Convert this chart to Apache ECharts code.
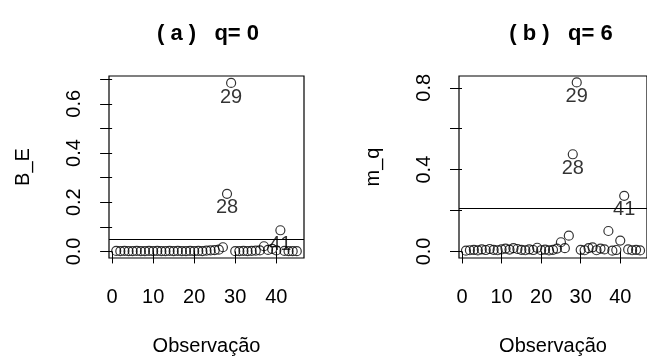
<!DOCTYPE html>
<html>
<head>
<meta charset="utf-8">
<script src="https://cdn.jsdelivr.net/npm/echarts@6/dist/echarts.min.js"></script>
<style>
  html, body { margin: 0; padding: 0; background: #fff; }
  #main { width: 647px; height: 361px; }
</style>
</head>
<body>
<div id="main"></div>
<script>
// observacoes 1..45
const obs = Array.from({length: 45}, (_, i) => i + 1)
// (a) q=0  -> B_E
const valoresA = [0.002, 0.001, 0.002, 0.001, 0.001, 0.002, 0.001, 0.001, 0.002, 0.001,
                  0.002, 0.001, 0.001, 0.002, 0.001, 0.002, 0.001, 0.001, 0.002, 0.001,
                  0.002, 0.001, 0.003, 0.004, 0.005, 0.007, 0.017, 0.234, 0.685, 0.001,
                  0.001, 0.002, 0.001, 0.002, 0.003, 0.004, 0.021, 0.006, 0.010, 0.004,
                  0.086, 0.002, 0.001, 0.001, 0.001]
// (b) q=6  -> m_q
const valoresB = [0.004, 0.006, 0.008, 0.005, 0.010, 0.007, 0.012, 0.008, 0.006, 0.010,
                  0.014, 0.009, 0.016, 0.012, 0.008, 0.006, 0.010, 0.007, 0.018, 0.006,
                  0.009, 0.005, 0.008, 0.014, 0.045, 0.016, 0.077, 0.475, 0.826, 0.008,
                  0.006, 0.016, 0.020, 0.006, 0.014, 0.010, 0.100, 0.004, 0.007, 0.053,
                  0.272, 0.010, 0.006, 0.008, 0.005]
const destacados = [28, 29, 41]
const limiteA = 0.048
const limiteB = 0.211
const xTicks = [0, 10, 20, 30, 40]
const yTicksA = [0, 0.1, 0.2, 0.3, 0.4, 0.5, 0.6, 0.7]
const yLabelsA = [0, 0.2, 0.4, 0.6]
const yTicksB = [0, 0.2, 0.4, 0.6, 0.8]
const yLabelsB = [0, 0.4, 0.8]

const fonte = "'Liberation Sans', Arial, Helvetica, sans-serif"

function pontos(vals) {
    return obs.map((o, i) => {
        let item = {value: [o, vals[i]]}
        if (destacados.indexOf(o) >= 0) {
            item.label = {show: true, formatter: String(o)}
        }
        return item
    })
}

function eixoX(idx) {
    return {
        gridIndex: idx, type: 'value', min: -0.76, max: 46.76,
        name: 'Observação', nameLocation: 'middle', nameGap: 78,
        nameTextStyle: {fontSize: 20, color: '#000', fontFamily: fonte},
        axisLine: {show: false},
        axisTick: {show: true, length: 12, lineStyle: {color: '#000'}, customValues: xTicks},
        axisLabel: {fontSize: 20, color: '#000', fontFamily: fonte, margin: 29, customValues: xTicks},
        splitLine: {show: false}
    }
}

function eixoY(idx, nome, min, max, ticks, labels) {
    return {
        gridIndex: idx, type: 'value', min: min, max: max,
        name: nome, nameLocation: 'middle', nameGap: 76, nameRotate: 90,
        nameTextStyle: {fontSize: 20, color: '#000', fontFamily: fonte},
        axisLine: {show: false},
        axisTick: {show: true, length: 12, lineStyle: {color: '#000'}, customValues: ticks},
        axisLabel: {fontSize: 20, color: '#000', fontFamily: fonte, margin: 25, rotate: 90,
                    customValues: labels, formatter: (v) => v.toFixed(1)},
        splitLine: {show: false}
    }
}

function serie(idx, vals, lim) {
    return {
        type: 'scatter', xAxisIndex: idx, yAxisIndex: idx,
        symbol: 'circle', symbolSize: 9,
        itemStyle: {color: 'rgba(0,0,0,0)', borderColor: '#000', borderWidth: 1.2},
        label: {show: false, position: 'bottom', distance: -1, fontSize: 20, color: '#000', fontFamily: fonte},
        emphasis: {disabled: true},
        data: pontos(vals),
        markLine: {
            silent: true, symbol: 'none', label: {show: false},
            lineStyle: {color: '#000', type: 'solid', width: 1.2},
            data: [{yAxis: lim}]
        }
    }
}

let myChart = echarts.init(document.getElementById('main'))
let option = {
    animation: false,
    textStyle: {fontFamily: fonte},
    title: [
        {text: '( a )   q= 0', left: 203, top: 18, textAlign: 'center',
         textStyle: {fontSize: 22, fontWeight: 'bold', color: '#000', fontFamily: fonte}},
        {text: '( b )   q= 6', left: 556, top: 18, textAlign: 'center',
         textStyle: {fontSize: 22, fontWeight: 'bold', color: '#000', fontFamily: fonte}}
    ],
    grid: [
        {left: 109, top: 76, width: 195, height: 185, show: true, borderColor: '#000', borderWidth: 1.2, backgroundColor: 'transparent'},
        {left: 459, top: 76, width: 197, height: 185, show: true, borderColor: '#000', borderWidth: 1.2, backgroundColor: 'transparent'}
    ],
    xAxis: [eixoX(0), eixoX(1)],
    yAxis: [
        eixoY(0, 'B_E', -0.0267, 0.713, yTicksA, yLabelsA),
        eixoY(1, 'm_q', -0.032, 0.8576, yTicksB, yLabelsB)
    ],
    series: [serie(0, valoresA, limiteA), serie(1, valoresB, limiteB)]
}
myChart.setOption(option)
</script>
</body>
</html>
